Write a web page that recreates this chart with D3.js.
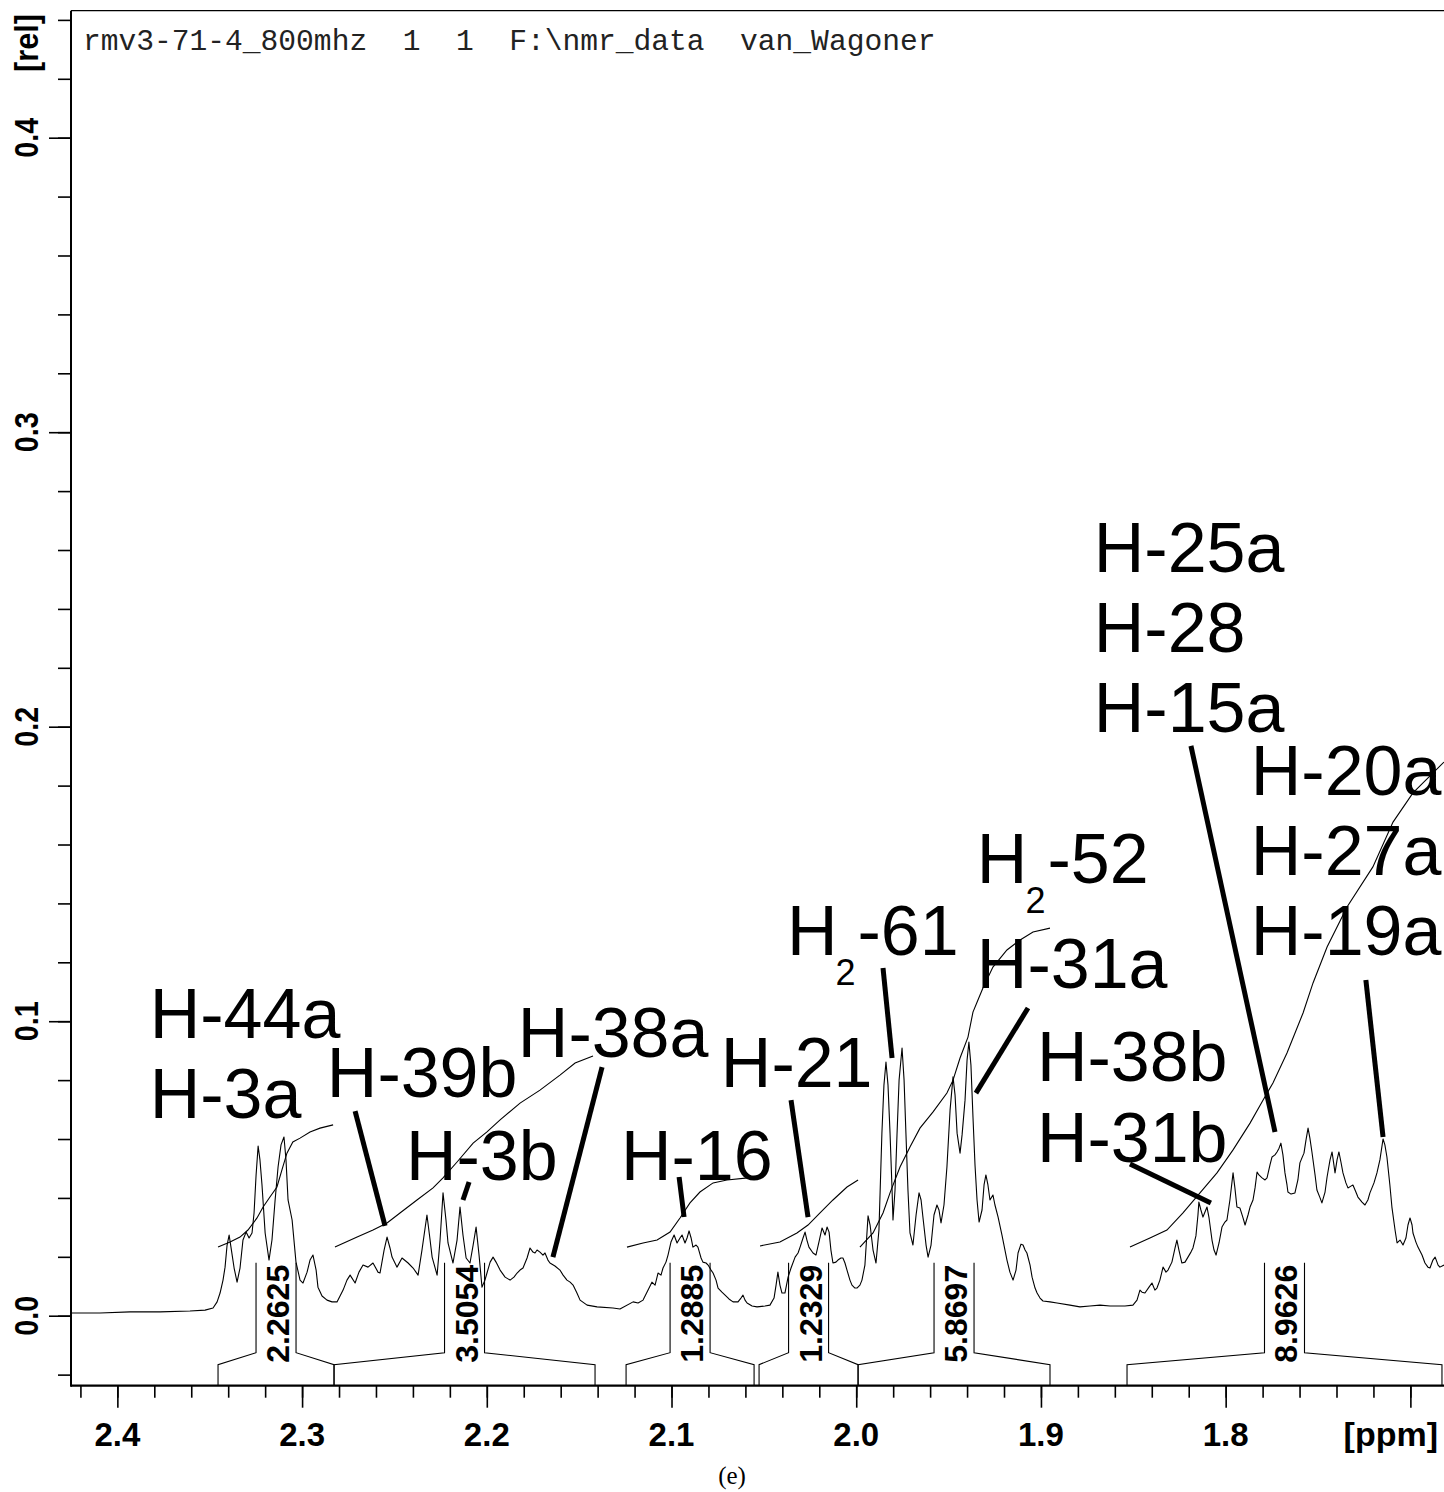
<!DOCTYPE html>
<html><head><meta charset="utf-8">
<script src="https://cdn.jsdelivr.net/npm/d3@7"></script>
<style>
html,body{margin:0;padding:0;background:#fff;}
svg{display:block;}
</style></head><body>
<svg id="chart" width="1444" height="1492"></svg>
<script>
// 1H NMR spectrum, 2.42 - 1.68 ppm region: [ppm, relative intensity]
const spectrum = [
[2.4251,0.0009],[2.4094,0.0009],[2.3931,0.0013],[2.3769,0.0013],[2.3607,0.0016],[2.3525,0.0019],[2.3482,0.0026],[2.3460,0.0047],
[2.3444,0.0077],[2.3428,0.0121],[2.3417,0.0165],[2.3406,0.0240],[2.3395,0.0274],[2.3385,0.0233],[2.3368,0.0162],[2.3352,0.0114],
[2.3336,0.0162],[2.3320,0.0257],[2.3303,0.0284],[2.3287,0.0264],[2.3271,0.0281],[2.3260,0.0349],[2.3249,0.0478],[2.3238,0.0576],
[2.3228,0.0529],[2.3217,0.0444],[2.3200,0.0281],[2.3179,0.0189],[2.3163,0.0257],[2.3146,0.0393],[2.3130,0.0505],[2.3114,0.0580],
[2.3098,0.0607],[2.3087,0.0529],[2.3076,0.0393],[2.3054,0.0325],[2.3033,0.0182],[2.3011,0.0121],[2.2995,0.0111],[2.2973,0.0148],
[2.2957,0.0189],[2.2941,0.0206],[2.2924,0.0155],[2.2914,0.0097],[2.2892,0.0067],[2.2865,0.0053],[2.2838,0.0047],[2.2811,0.0047],
[2.2778,0.0087],[2.2757,0.0121],[2.2740,0.0138],[2.2713,0.0111],[2.2692,0.0148],[2.2670,0.0172],[2.2643,0.0165],[2.2616,0.0179],
[2.2589,0.0148],[2.2578,0.0145],[2.2556,0.0223],[2.2540,0.0267],[2.2524,0.0230],[2.2513,0.0199],[2.2486,0.0165],[2.2459,0.0196],
[2.2426,0.0179],[2.2399,0.0162],[2.2372,0.0138],[2.2351,0.0223],[2.2324,0.0342],[2.2307,0.0257],[2.2296,0.0199],[2.2269,0.0138],
[2.2253,0.0257],[2.2237,0.0417],[2.2221,0.0325],[2.2210,0.0247],[2.2183,0.0179],[2.2161,0.0257],[2.2145,0.0369],[2.2129,0.0274],
[2.2112,0.0196],[2.2091,0.0179],[2.2074,0.0240],[2.2058,0.0301],[2.2042,0.0206],[2.2026,0.0097],[2.2010,0.0121],[2.1999,0.0145],
[2.1982,0.0182],[2.1966,0.0199],[2.1950,0.0182],[2.1928,0.0155],[2.1901,0.0131],[2.1874,0.0121],[2.1853,0.0131],[2.1836,0.0145],
[2.1820,0.0155],[2.1804,0.0162],[2.1782,0.0196],[2.1766,0.0230],[2.1750,0.0216],[2.1739,0.0213],[2.1728,0.0223],[2.1712,0.0216],
[2.1696,0.0206],[2.1685,0.0213],[2.1669,0.0189],[2.1658,0.0179],[2.1631,0.0169],[2.1604,0.0155],[2.1587,0.0138],[2.1566,0.0121],
[2.1549,0.0114],[2.1533,0.0104],[2.1512,0.0077],[2.1495,0.0053],[2.1457,0.0036],[2.1403,0.0030],[2.1317,0.0026],[2.1279,0.0023],
[2.1208,0.0047],[2.1181,0.0043],[2.1154,0.0053],[2.1127,0.0087],[2.1106,0.0114],[2.1089,0.0104],[2.1073,0.0145],[2.1057,0.0138],
[2.1046,0.0162],[2.1030,0.0182],[2.1019,0.0206],[2.1003,0.0250],[2.0986,0.0274],[2.0970,0.0247],[2.0954,0.0264],[2.0943,0.0274],
[2.0927,0.0247],[2.0916,0.0264],[2.0905,0.0288],[2.0894,0.0264],[2.0884,0.0233],[2.0867,0.0240],[2.0857,0.0233],[2.0840,0.0196],
[2.0830,0.0182],[2.0813,0.0179],[2.0802,0.0172],[2.0786,0.0155],[2.0775,0.0145],[2.0759,0.0121],[2.0748,0.0094],[2.0727,0.0080],
[2.0710,0.0070],[2.0689,0.0057],[2.0667,0.0047],[2.0640,0.0047],[2.0624,0.0060],[2.0613,0.0070],[2.0602,0.0053],[2.0591,0.0043],
[2.0564,0.0033],[2.0537,0.0030],[2.0494,0.0033],[2.0467,0.0036],[2.0445,0.0060],[2.0434,0.0104],[2.0424,0.0148],[2.0413,0.0104],
[2.0402,0.0077],[2.0386,0.0077],[2.0369,0.0131],[2.0353,0.0162],[2.0331,0.0199],[2.0315,0.0213],[2.0304,0.0233],[2.0288,0.0264],
[2.0277,0.0284],[2.0267,0.0257],[2.0256,0.0233],[2.0234,0.0213],[2.0218,0.0206],[2.0202,0.0250],[2.0185,0.0298],[2.0169,0.0274],
[2.0158,0.0301],[2.0147,0.0284],[2.0137,0.0223],[2.0126,0.0179],[2.0110,0.0182],[2.0099,0.0189],[2.0083,0.0196],[2.0072,0.0196],
[2.0061,0.0179],[2.0050,0.0155],[2.0034,0.0121],[2.0023,0.0104],[2.0007,0.0094],[1.9996,0.0094],[1.9980,0.0104],[1.9969,0.0121],
[1.9953,0.0172],[1.9936,0.0339],[1.9925,0.0308],[1.9909,0.0223],[1.9893,0.0179],[1.9877,0.0291],[1.9861,0.0620],[1.9850,0.0783],
[1.9839,0.0861],[1.9828,0.0783],[1.9817,0.0620],[1.9806,0.0427],[1.9801,0.0325],[1.9790,0.0427],[1.9779,0.0620],[1.9768,0.0800],
[1.9752,0.0909],[1.9741,0.0800],[1.9731,0.0620],[1.9720,0.0427],[1.9709,0.0281],[1.9693,0.0240],[1.9676,0.0342],[1.9660,0.0417],
[1.9649,0.0393],[1.9639,0.0335],[1.9622,0.0240],[1.9611,0.0199],[1.9595,0.0240],[1.9579,0.0342],[1.9563,0.0376],[1.9552,0.0359],
[1.9541,0.0315],[1.9525,0.0376],[1.9509,0.0505],[1.9492,0.0698],[1.9476,0.0811],[1.9465,0.0749],[1.9454,0.0620],[1.9438,0.0552],
[1.9427,0.0614],[1.9411,0.0732],[1.9400,0.0868],[1.9390,0.0929],[1.9379,0.0851],[1.9368,0.0675],[1.9357,0.0512],[1.9346,0.0393],
[1.9335,0.0318],[1.9319,0.0359],[1.9308,0.0444],[1.9298,0.0478],[1.9287,0.0444],[1.9276,0.0393],[1.9260,0.0410],[1.9249,0.0376],
[1.9232,0.0335],[1.9211,0.0274],[1.9184,0.0189],[1.9168,0.0148],[1.9151,0.0121],[1.9135,0.0155],[1.9124,0.0213],[1.9108,0.0243],
[1.9097,0.0240],[1.9086,0.0223],[1.9076,0.0213],[1.9059,0.0172],[1.9048,0.0131],[1.9032,0.0094],[1.9021,0.0077],[1.9005,0.0060],
[1.8989,0.0050],[1.8951,0.0047],[1.8913,0.0043],[1.8843,0.0036],[1.8789,0.0030],[1.8735,0.0033],[1.8680,0.0036],[1.8626,0.0033],
[1.8588,0.0033],[1.8545,0.0033],[1.8502,0.0036],[1.8480,0.0053],[1.8464,0.0087],[1.8453,0.0080],[1.8437,0.0077],[1.8415,0.0097],
[1.8399,0.0111],[1.8383,0.0087],[1.8372,0.0094],[1.8356,0.0121],[1.8339,0.0165],[1.8323,0.0148],[1.8312,0.0155],[1.8291,0.0182],
[1.8274,0.0230],[1.8264,0.0257],[1.8253,0.0223],[1.8237,0.0179],[1.8220,0.0182],[1.8204,0.0199],[1.8188,0.0216],[1.8177,0.0230],
[1.8161,0.0271],[1.8150,0.0342],[1.8145,0.0386],[1.8134,0.0359],[1.8123,0.0335],[1.8112,0.0352],[1.8101,0.0369],[1.8090,0.0332],
[1.8074,0.0257],[1.8063,0.0223],[1.8052,0.0206],[1.8036,0.0247],[1.8020,0.0301],[1.8004,0.0318],[1.7993,0.0325],[1.7977,0.0393],
[1.7960,0.0485],[1.7950,0.0434],[1.7939,0.0369],[1.7923,0.0366],[1.7906,0.0332],[1.7895,0.0308],[1.7879,0.0342],[1.7868,0.0369],
[1.7852,0.0393],[1.7841,0.0434],[1.7830,0.0488],[1.7820,0.0478],[1.7803,0.0468],[1.7787,0.0461],[1.7776,0.0468],[1.7760,0.0512],
[1.7749,0.0539],[1.7733,0.0546],[1.7722,0.0556],[1.7711,0.0569],[1.7701,0.0586],[1.7690,0.0546],[1.7679,0.0485],[1.7668,0.0444],
[1.7663,0.0420],[1.7646,0.0413],[1.7625,0.0417],[1.7609,0.0461],[1.7598,0.0519],[1.7587,0.0536],[1.7576,0.0552],[1.7565,0.0597],
[1.7554,0.0637],[1.7544,0.0603],[1.7533,0.0556],[1.7516,0.0478],[1.7506,0.0427],[1.7489,0.0400],[1.7479,0.0383],[1.7462,0.0420],
[1.7451,0.0471],[1.7435,0.0529],[1.7424,0.0556],[1.7414,0.0512],[1.7408,0.0485],[1.7397,0.0529],[1.7387,0.0556],[1.7376,0.0522],
[1.7365,0.0485],[1.7349,0.0451],[1.7338,0.0434],[1.7322,0.0440],[1.7311,0.0444],[1.7295,0.0420],[1.7284,0.0403],[1.7262,0.0386],
[1.7246,0.0376],[1.7230,0.0393],[1.7219,0.0417],[1.7197,0.0451],[1.7181,0.0485],[1.7165,0.0529],[1.7148,0.0600],[1.7138,0.0580],
[1.7127,0.0539],[1.7111,0.0444],[1.7100,0.0369],[1.7083,0.0291],[1.7072,0.0247],[1.7056,0.0257],[1.7040,0.0240],[1.7024,0.0264],
[1.7013,0.0308],[1.7002,0.0332],[1.6991,0.0308],[1.6986,0.0281],[1.6970,0.0250],[1.6959,0.0233],[1.6937,0.0206],[1.6921,0.0179],
[1.6905,0.0165],[1.6894,0.0162],[1.6878,0.0189],[1.6866,0.0199],[1.6850,0.0172],[1.6840,0.0165],[1.6818,0.0172]
];

// running-integral traces, one per integrated region: [ppm, rel]
const integralTraces = [
  [[2.3455,0.0233],[2.3390,0.0250],[2.3336,0.0267],[2.3293,0.0291],[2.3244,0.0332],[2.3211,0.0369],[2.3174,0.0403],[2.3136,0.0437],
   [2.3109,0.0495],[2.3082,0.0552],[2.3050,0.0590],[2.3011,0.0603],[2.2957,0.0624],[2.2903,0.0637],[2.2832,0.0648]],
  [[2.2822,0.0233],[2.2702,0.0267],[2.2616,0.0291],[2.2540,0.0315],[2.2470,0.0349],[2.2378,0.0393],[2.2291,0.0434],[2.2237,0.0468],
   [2.2161,0.0522],[2.2074,0.0586],[2.1999,0.0624],[2.1928,0.0665],[2.1820,0.0722],[2.1712,0.0766],[2.1604,0.0817],[2.1522,0.0858],[2.1425,0.0882]],
  [[2.1241,0.0233],[2.1154,0.0247],[2.1078,0.0257],[2.1008,0.0284],[2.0954,0.0332],[2.0900,0.0383],[2.0846,0.0420],[2.0775,0.0451],
   [2.0700,0.0461],[2.0586,0.0468]],
  [[2.0521,0.0237],[2.0413,0.0250],[2.0321,0.0281],[2.0261,0.0308],[2.0196,0.0349],[2.0126,0.0393],[2.0050,0.0437],[1.9990,0.0461]],
  [[1.9980,0.0233],[1.9909,0.0281],[1.9855,0.0349],[1.9817,0.0417],[1.9763,0.0505],[1.9709,0.0573],[1.9655,0.0637],[1.9584,0.0692],
   [1.9509,0.0756],[1.9476,0.0800],[1.9438,0.0875],[1.9395,0.0946],[1.9368,0.1031],[1.9341,0.1072],[1.9314,0.1113],[1.9260,0.1184],
   [1.9184,0.1242],[1.9113,0.1276],[1.9043,0.1303],[1.8951,0.1316]],
  [[1.8518,0.0233],[1.8410,0.0264],[1.8318,0.0291],[1.8231,0.0349],[1.8139,0.0417],[1.8047,0.0485],[1.7960,0.0563],[1.7868,0.0654],
   [1.7798,0.0732],[1.7744,0.0790],[1.7668,0.0892],[1.7581,0.1028],[1.7527,0.1130],[1.7451,0.1252],[1.7343,0.1388],[1.7203,0.1524],
   [1.7094,0.1676],[1.6986,0.1775],[1.6818,0.1880]]
];

// integration limits [from, to] in ppm and the integral values
const integralRanges = [[2.3455,2.2827],[2.2827,2.1414],[2.1246,2.0553],[2.0526,1.9990],[1.9990,1.8951],[1.8534,1.6829]];
const integralValues = [2.2625, 3.5054, 1.2885, 1.2329, 5.8697, 8.9626];

// assignment labels: text parts ([main, subscript, rest]), left/baseline anchor [ppm, rel]
const assignLabels = [
  {parts:["H-44a"], at:[2.3825,0.0943]},
  {parts:["H-3a"],  at:[2.3825,0.0671]},
  {parts:["H-39b"], at:[2.2866,0.0743]},
  {parts:["H-38a"], at:[2.1832,0.0878]},
  {parts:["H-3b"],  at:[2.2438,0.0461]},
  {parts:["H-16"],  at:[2.1274,0.0461]},
  {parts:["H-21"],  at:[2.0733,0.0777]},
  {parts:["H","2","-61"], at:[2.0375,0.1225]},
  {parts:["H","2","-52"], at:[1.9347,0.1469]},
  {parts:["H-31a"], at:[1.9347,0.1113]},
  {parts:["H-38b"], at:[1.9022,0.0797]},
  {parts:["H-31b"], at:[1.9022,0.0522]},
  {parts:["H-25a"], at:[1.8714,0.2525]},
  {parts:["H-28"],  at:[1.8714,0.2254]},
  {parts:["H-15a"], at:[1.8714,0.1982]},
  {parts:["H-20a"], at:[1.7864,0.1768]},
  {parts:["H-27a"], at:[1.7864,0.1496]},
  {parts:["H-19a"], at:[1.7864,0.1225]}
];

// leader lines from labels to peaks: [[ppm, rel], [ppm, rel]]
const leaders = [
  [[2.2713,0.0695],[2.2551,0.0305]],
  [[2.2096,0.0454],[2.2129,0.0393]],
  [[2.1376,0.0844],[2.1642,0.0199]],
  [[2.0959,0.0471],[2.0932,0.0335]],
  [[2.0353,0.0732],[2.0261,0.0335]],
  [[1.9855,0.1181],[1.9806,0.0875]],
  [[1.9070,0.1045],[1.9352,0.0756]],
  [[1.8518,0.0515],[1.8080,0.0383]],
  [[1.8188,0.1935],[1.7733,0.0624]],
  [[1.7241,0.1140],[1.7148,0.0607]]
];

const xMajorTicks = [2.4, 2.3, 2.2, 2.1, 2.0, 1.9, 1.8, 1.7];
const xTickLabels = ["2.4", "2.3", "2.2", "2.1", "2.0", "1.9", "1.8"];
const yMajorTicks = [0.0, 0.1, 0.2, 0.3, 0.4];
const yTickLabels = ["0.0", "0.1", "0.2", "0.3", "0.4"];
const headerText = "rmv3-71-4_800mhz  1  1  F:\\nmr_data  van_Wagoner";

const W = 1444, H = 1492;
const svg = d3.select('#chart');
const x = d3.scaleLinear().domain([2.4251, 1.6818]).range([71, 1444]);
const y = d3.scaleLinear().domain([-0.02376, 0.44312]).range([1385.7, 10.7]);
const axisY = y.range()[0], topY = y.range()[1];
const SANS = "'Liberation Sans', Arial, sans-serif";

const xMinorTicks = d3.range(2.42, 1.679, -0.02).map(v => +v.toFixed(2));
const yMinorTicks = d3.range(-0.02, 0.441, 0.02).map(v => +v.toFixed(2));

// frame
svg.append('line').attr('x1', 71).attr('x2', W).attr('y1', topY).attr('y2', topY)
  .attr('stroke', '#000').attr('stroke-width', 1.3);

// x axis
function xAxis(ticks, size) {
  const g = svg.append('g').attr('transform', `translate(0,${axisY})`)
    .call(d3.axisBottom(x).tickValues(ticks).tickSize(size).tickFormat(''));
  g.select('.domain').remove();
  g.selectAll('line').attr('stroke', '#000').attr('stroke-width', 1.6);
}
xAxis(xMinorTicks, 12);
xAxis(xMajorTicks, 22);
svg.append('line').attr('x1', 71).attr('x2', W).attr('y1', axisY).attr('y2', axisY)
  .attr('stroke', '#000').attr('stroke-width', 2.2);
svg.append('g').selectAll('text').data(xTickLabels).join('text')
  .attr('x', (d, i) => x(xMajorTicks[i])).attr('y', 1446)
  .attr('text-anchor', 'middle').attr('font-family', SANS).attr('font-weight', 'bold')
  .attr('font-size', 33).text(d => d);
svg.append('text').attr('x', 1438).attr('y', 1446).attr('text-anchor', 'end')
  .attr('font-family', SANS).attr('font-weight', 'bold').attr('font-size', 34).text('[ppm]');

// y axis
function yAxis(ticks, size) {
  const g = svg.append('g').attr('transform', `translate(71,0)`)
    .call(d3.axisLeft(y).tickValues(ticks).tickSize(size).tickFormat(''));
  g.select('.domain').remove();
  g.selectAll('line').attr('stroke', '#000').attr('stroke-width', 1.6);
}
yAxis(yMinorTicks, 13);
yAxis(yMajorTicks, 22);
svg.append('line').attr('x1', 71).attr('x2', 71).attr('y1', topY).attr('y2', axisY + 1)
  .attr('stroke', '#000').attr('stroke-width', 2);
svg.append('g').selectAll('text').data(yTickLabels).join('text')
  .attr('transform', (d, i) => `translate(38,${y(yMajorTicks[i])}) rotate(-90)`)
  .attr('text-anchor', 'middle').attr('font-family', SANS).attr('font-weight', 'bold')
  .attr('font-size', 34).attr('textLength', 40).attr('lengthAdjust', 'spacingAndGlyphs').text(d => d);
svg.append('text').attr('transform', `translate(38,43) rotate(-90)`)
  .attr('text-anchor', 'middle').attr('font-family', SANS).attr('font-weight', 'bold')
  .attr('font-size', 34).attr('textLength', 58).attr('lengthAdjust', 'spacingAndGlyphs').text('[rel]');

// header line
svg.append('text').attr('x', 83).attr('y', 50).style('white-space', 'pre')
  .attr('font-family', "'Liberation Mono', 'Courier New', monospace").attr('font-size', 29.6)
  .attr('fill', '#222').text(headerText);

const line = d3.line().x(d => x(d[0])).y(d => y(d[1]));

// integral traces
svg.append('g').selectAll('path').data(integralTraces).join('path')
  .attr('d', line).attr('fill', 'none').attr('stroke', '#000').attr('stroke-width', 1.1);

// spectrum
svg.append('path').datum(spectrum).attr('d', line)
  .attr('fill', 'none').attr('stroke', '#000').attr('stroke-width', 1.1).attr('stroke-linejoin', 'round');

// integration brackets with values
const br = svg.append('g');
integralRanges.forEach((r, i) => {
  const xa = x(r[0]), xb = x(r[1]), xc = (xa + xb) / 2;
  const foot = axisY - 21, box = axisY - 33, top = axisY - 123;
  br.append('path')
    .attr('d', `M${xa},${axisY}V${foot}L${xc - 20},${box}V${top}M${xc + 20},${top}V${box}L${xb},${foot}V${axisY}`)
    .attr('fill', 'none').attr('stroke', '#000').attr('stroke-width', 1.1);
  br.append('text').attr('transform', `translate(${xc + 13},${axisY - 23}) rotate(-90)`)
    .attr('font-family', SANS).attr('font-weight', 'bold').attr('font-size', 32)
    .text(d3.format('.4f')(integralValues[i]));
});

// leader lines
svg.append('g').selectAll('line').data(leaders).join('line')
  .attr('x1', d => x(d[0][0])).attr('y1', d => y(d[0][1]))
  .attr('x2', d => x(d[1][0])).attr('y2', d => y(d[1][1]))
  .attr('stroke', '#000').attr('stroke-width', 5);

// assignment labels
const lab = svg.append('g').attr('font-family', SANS).attr('font-size', 70);
assignLabels.forEach(l => {
  const t = lab.append('text').attr('x', x(l.at[0])).attr('y', y(l.at[1]));
  t.append('tspan').text(l.parts[0]);
  if (l.parts.length > 1) {
    t.append('tspan').attr('font-size', 36).attr('dy', 30).attr('dx', -2).text(l.parts[1]);
    t.append('tspan').attr('dy', -30).attr('dx', 2).text(l.parts[2]);
  }
});

// caption
svg.append('text').attr('x', 732).attr('y', 1484).attr('text-anchor', 'middle')
  .attr('font-family', "'Liberation Serif', 'Times New Roman', serif").attr('font-size', 25).text('(e)');
</script>
</body></html>
